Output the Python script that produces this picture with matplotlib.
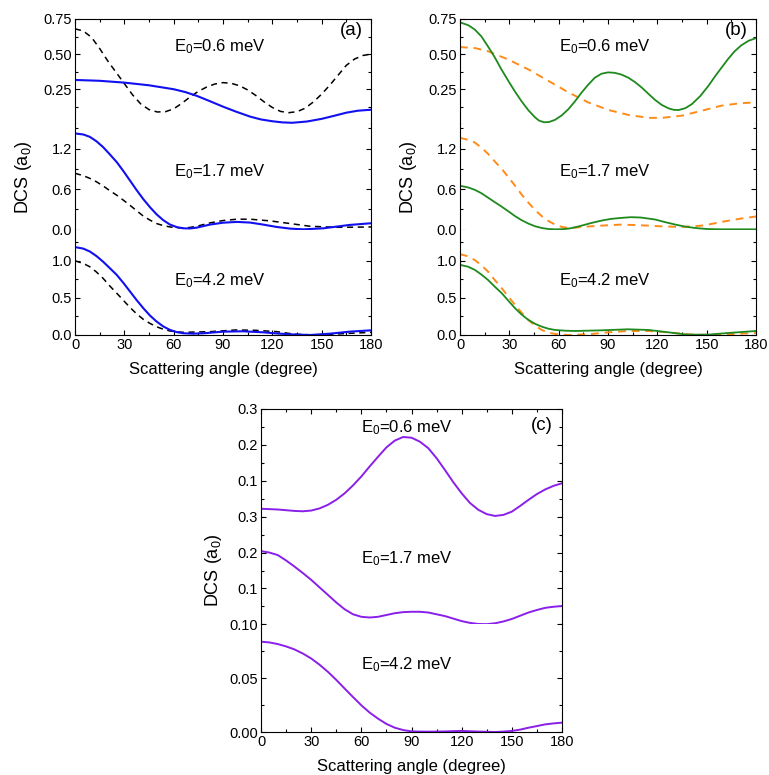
import numpy as np
import matplotlib
matplotlib.use("Agg")
import matplotlib.pyplot as plt
from matplotlib.ticker import FormatStrFormatter, AutoMinorLocator, MultipleLocator

plt.rcParams['font.family'] = ['Liberation Sans', 'DejaVu Sans']
plt.rcParams['mathtext.fontset'] = 'custom'
plt.rcParams['mathtext.rm'] = 'Liberation Sans'
plt.rcParams['mathtext.it'] = 'Liberation Sans'

energies = ['0.6', '1.7', '4.2']

# ---- panel (a) ----
a_top_dash_x = [0, 5, 10, 15, 20, 25, 30, 35, 40, 45, 50, 55, 60, 65, 70, 75, 80, 85, 90, 95, 100, 105, 110, 115, 120, 125, 130, 135, 140, 145, 150, 155, 160, 165, 170, 175, 180]
a_top_dash_y = [0.68, 0.665, 0.62, 0.54, 0.45, 0.37, 0.29, 0.21, 0.145, 0.105, 0.088, 0.09, 0.11, 0.15, 0.195, 0.235, 0.265, 0.287, 0.297, 0.292, 0.275, 0.245, 0.205, 0.16, 0.12, 0.092, 0.083, 0.09, 0.115, 0.16, 0.215, 0.28, 0.35, 0.42, 0.465, 0.49, 0.50]
a_top_sol_x = [0, 15, 30, 45, 60, 67, 74, 82, 90, 98, 106.5, 113, 120, 126, 132, 141, 150, 158, 165, 172, 180]
a_top_sol_y = [0.316, 0.31, 0.297, 0.278, 0.25, 0.23, 0.203, 0.165, 0.126, 0.09, 0.055, 0.035, 0.022, 0.014, 0.011, 0.02, 0.039, 0.062, 0.083, 0.097, 0.104]

a_mid_sol_x = [0, 5, 9, 13, 17, 21, 25.4, 29.5, 33.5, 37.5, 41.6, 45.7, 49.7, 53.7, 57.8, 62, 66, 70, 74, 82, 90, 98.4, 106.5, 114, 122.7, 131, 139, 151, 159, 167, 180]
a_mid_sol_y = [1.425, 1.41, 1.375, 1.31, 1.225, 1.12, 1.0, 0.865, 0.725, 0.585, 0.45, 0.33, 0.225, 0.14, 0.075, 0.037, 0.02, 0.018, 0.03, 0.075, 0.103, 0.115, 0.105, 0.077, 0.04, 0.015, 0.005, 0.02, 0.045, 0.07, 0.095]
a_mid_dash_x = [0, 5, 9, 13, 17, 21, 25.4, 29.5, 33.5, 37.5, 41.6, 45.7, 49.7, 53.7, 57.8, 62, 66, 70, 74, 82, 90, 98.4, 106.5, 118.7, 131, 143, 159, 170, 180]
a_mid_dash_y = [0.835, 0.8, 0.76, 0.71, 0.65, 0.58, 0.51, 0.435, 0.36, 0.28, 0.2, 0.14, 0.09, 0.06, 0.04, 0.03, 0.025, 0.033, 0.05, 0.1, 0.135, 0.155, 0.155, 0.13, 0.09, 0.05, 0.035, 0.037, 0.04]

a_bot_sol_x = [0, 5, 9, 13, 17, 21, 25.4, 29.5, 33.5, 37.5, 41.6, 45.7, 49.7, 53.7, 57.8, 62, 66, 72, 78, 90, 102, 114.6, 123, 131, 143, 155, 167, 180]
a_bot_sol_y = [1.185, 1.165, 1.126, 1.065, 0.99, 0.905, 0.81, 0.70, 0.585, 0.47, 0.36, 0.26, 0.18, 0.115, 0.068, 0.038, 0.023, 0.018, 0.023, 0.045, 0.05, 0.036, 0.02, 0.009, 0.0, 0.018, 0.045, 0.063]
a_bot_dash_x = [0, 5, 9, 13, 17, 21, 25.4, 29.5, 33.5, 37.5, 41.6, 45.7, 49.7, 53.7, 57.8, 62, 66, 82, 98, 110, 122.7, 130, 135, 147, 163, 180]
a_bot_dash_y = [1.0, 0.965, 0.92, 0.85, 0.766, 0.665, 0.563, 0.465, 0.37, 0.285, 0.21, 0.155, 0.11, 0.078, 0.054, 0.042, 0.036, 0.045, 0.068, 0.063, 0.045, 0.022, 0.009, 0.0, 0.018, 0.036]

# ---- panel (b) ----
b_top_sol_x = [0, 5, 9, 13, 17, 21, 25, 29.4, 33.5, 37.5, 41.6, 45.6, 48, 51, 54, 57.8, 62, 66, 70, 74, 78, 82, 86, 90, 94, 98, 102.4, 106.5, 110.5, 114.6, 118.7, 122.7, 126.8, 130, 133, 137, 141, 146, 151, 155, 159, 163, 167, 171, 175.5, 180]
b_top_sol_y = [0.726, 0.706, 0.675, 0.626, 0.555, 0.48, 0.395, 0.309, 0.232, 0.163, 0.1, 0.05, 0.027, 0.015, 0.016, 0.032, 0.065, 0.109, 0.165, 0.227, 0.283, 0.332, 0.36, 0.37, 0.367, 0.355, 0.332, 0.3, 0.262, 0.217, 0.173, 0.138, 0.114, 0.103, 0.102, 0.115, 0.144, 0.2, 0.273, 0.34, 0.403, 0.465, 0.52, 0.562, 0.595, 0.614]
b_top_dash_x = [0, 9.1, 17.2, 29.4, 41.6, 53.8, 66, 78, 90.3, 102.4, 114.6, 122.7, 135, 147, 159, 171, 180]
b_top_dash_y = [0.55, 0.543, 0.52, 0.461, 0.391, 0.309, 0.227, 0.156, 0.102, 0.067, 0.046, 0.046, 0.062, 0.097, 0.133, 0.151, 0.156]

b_mid_sol_x = [0, 5, 9, 13, 17, 21, 25.4, 29.5, 33.5, 37.5, 41.6, 45.7, 49.7, 53.7, 57.8, 62, 65.9, 70, 74, 80, 86.2, 92, 98.4, 104, 110, 118.7, 125, 131, 137, 143, 150, 159, 180]
b_mid_sol_y = [0.65, 0.625, 0.59, 0.54, 0.475, 0.41, 0.34, 0.27, 0.2, 0.14, 0.09, 0.05, 0.025, 0.01, 0.005, 0.007, 0.015, 0.035, 0.06, 0.1, 0.135, 0.16, 0.175, 0.185, 0.18, 0.15, 0.11, 0.075, 0.045, 0.025, 0.01, 0.005, 0.005]
b_mid_dash_x = [0, 5, 9, 13, 17, 21, 25.4, 29.5, 33.5, 37.5, 41.6, 45.7, 49.7, 53.7, 57.8, 62, 65.9, 70, 74, 86, 98, 110, 122, 135, 147, 153, 159, 165, 171, 180]
b_mid_dash_y = [1.36, 1.33, 1.29, 1.215, 1.125, 1.015, 0.9, 0.775, 0.65, 0.52, 0.4, 0.29, 0.2, 0.13, 0.075, 0.04, 0.025, 0.03, 0.04, 0.06, 0.075, 0.065, 0.05, 0.04, 0.06, 0.085, 0.115, 0.14, 0.165, 0.195]

b_bot_sol_x = [0, 5, 9, 13, 17, 21, 25.4, 29.5, 33.5, 37.5, 41.6, 45.7, 49.7, 53.7, 57.8, 64, 70, 86, 102, 114.6, 126.8, 133, 139, 151, 163, 180]
b_bot_sol_y = [0.946, 0.92, 0.878, 0.815, 0.743, 0.655, 0.563, 0.46, 0.36, 0.275, 0.203, 0.15, 0.113, 0.085, 0.068, 0.058, 0.054, 0.063, 0.077, 0.068, 0.036, 0.018, 0.005, 0.005, 0.027, 0.054]
b_bot_dash_x = [0, 5, 9, 13, 17, 21, 25.4, 29.5, 33.5, 37.5, 41.6, 45.7, 49.7, 53.7, 57.8, 62, 66, 78, 90, 102, 114.6, 126.8, 139, 151, 163, 180]
b_bot_dash_y = [1.09, 1.06, 1.01, 0.94, 0.856, 0.745, 0.63, 0.515, 0.405, 0.3, 0.203, 0.125, 0.068, 0.033, 0.014, 0.004, 0.0, 0.009, 0.036, 0.054, 0.054, 0.036, 0.009, 0.0, 0.009, 0.027]

# ---- panel (c) ----
c_x = [0, 5, 10, 15, 20, 25, 30, 35, 40, 45, 50, 55, 60, 65, 70, 75, 80, 85, 90, 95, 100, 105, 110, 115, 120, 125, 130, 135, 140, 145, 150, 155, 160, 165, 170, 175, 180]
c_top_y = [0.022, 0.021, 0.02, 0.018, 0.016, 0.015, 0.017, 0.023, 0.033, 0.047, 0.065, 0.087, 0.112, 0.14, 0.167, 0.193, 0.212, 0.222, 0.22, 0.209, 0.191, 0.163, 0.13, 0.096, 0.065, 0.038, 0.019, 0.007, 0.002, 0.005, 0.014, 0.03, 0.047, 0.063, 0.076, 0.086, 0.093]
c_mid_y = [0.204, 0.2, 0.193, 0.178, 0.161, 0.143, 0.124, 0.103, 0.082, 0.061, 0.042, 0.028, 0.021, 0.019, 0.021, 0.026, 0.031, 0.034, 0.035, 0.035, 0.033, 0.028, 0.023, 0.016, 0.009, 0.004, 0.001, 0.0005, 0.003, 0.008, 0.015, 0.024, 0.033, 0.04, 0.046, 0.049, 0.051]
c_bot_y = [0.0839, 0.0832, 0.0817, 0.0795, 0.0767, 0.0729, 0.0683, 0.0625, 0.0559, 0.0484, 0.0404, 0.0325, 0.0248, 0.018, 0.0124, 0.0075, 0.004, 0.0018, 0.0006, 0.0004, 0.0003, 0.0004, 0.0005, 0.0008, 0.001, 0.0007, 0.0004, 0.0002, 0.0, 0.0004, 0.001, 0.0022, 0.004, 0.0055, 0.0071, 0.008, 0.0087]

blue = '#1010F0'
green = '#1E8A1E'
orange = '#FF8C1A'
purple = '#8A1FEA'

fig = plt.figure(figsize=(7.69, 7.75), dpi=100)
W, H = 769.0, 775.0


def make_stack(left, top, bottom, width, ylims, yticks, yfmts, texts, tpos, tag, tagpos, ypad):
    h = (bottom - top) / 3.0
    axes = []
    for i in range(3):
        y0 = top + h * (i + 1)
        ax = fig.add_axes([left / W, 1 - y0 / H, width / W, h / H])
        ax.set_xlim(0, 180)
        ax.set_ylim(*ylims[i])
        ax.set_yticks(yticks[i])
        ax.yaxis.set_major_formatter(FormatStrFormatter(yfmts[i]))
        ax.yaxis.set_minor_locator(AutoMinorLocator(2))
        ax.xaxis.set_major_locator(MultipleLocator(30))
        ax.xaxis.set_minor_locator(MultipleLocator(15))
        ax.tick_params(which='both', direction='in', left=True, right=True,
                       top=(i == 0), bottom=(i == 2), labelbottom=(i == 2),
                       labelsize=10.5, width=0.8, pad=2)
        ax.tick_params(which='major', length=3.5)
        ax.tick_params(which='minor', length=2)
        if i != 0:
            ax.spines['top'].set_visible(False)
        if i != 2:
            ax.spines['bottom'].set_visible(False)
        ax.text(1.0 / 3, tpos[i], 'E$_0$=' + texts[i] + ' meV', transform=ax.transAxes,
                fontsize=12, va='center', ha='left')
        axes.append(ax)
    axes[0].text(tagpos[0], tagpos[1], tag, transform=axes[0].transAxes,
                 fontsize=13.5, ha='center', va='center')
    axes[1].set_ylabel('DCS (a$_0$)', fontsize=13, labelpad=ypad)
    axes[2].set_xlabel('Scattering angle (degree)', fontsize=12, labelpad=7.5)
    return axes


ab_lims = [(0, 0.75), (0, 1.56), (0, 1.42)]
ab_ticks = [[0.25, 0.5, 0.75], [0.0, 0.6, 1.2], [0.0, 0.5, 1.0]]
ab_fmts = ['%.2f', '%.1f', '%.1f']

axa = make_stack(75, 19, 335, 296, ab_lims, ab_ticks, ab_fmts, energies,
                 [0.74, 0.55, 0.52], '(a)', (0.935, 0.89), 13)
axa[0].plot(a_top_dash_x, a_top_dash_y, color='k', ls=(0, (4, 3)), lw=1.1)
axa[0].plot(a_top_sol_x, a_top_sol_y, color=blue, lw=1.5)
axa[1].plot(a_mid_dash_x, a_mid_dash_y, color='k', ls=(0, (4, 3)), lw=1.1)
axa[1].plot(a_mid_sol_x, a_mid_sol_y, color=blue, lw=1.5)
axa[2].plot(a_bot_dash_x, a_bot_dash_y, color='k', ls=(0, (4, 3)), lw=1.1)
axa[2].plot(a_bot_sol_x, a_bot_sol_y, color=blue, lw=1.5)

axb = make_stack(460, 19, 335, 296, ab_lims, ab_ticks, ab_fmts, energies,
                 [0.74, 0.55, 0.52], '(b)', (0.935, 0.89), 13)
axb[0].plot(b_top_dash_x, b_top_dash_y, color=orange, ls=(0, (4, 3)), lw=1.4)
axb[0].plot(b_top_sol_x, b_top_sol_y, color=green, lw=1.3)
axb[1].plot(b_mid_dash_x, b_mid_dash_y, color=orange, ls=(0, (4, 3)), lw=1.4)
axb[1].plot(b_mid_sol_x, b_mid_sol_y, color=green, lw=1.3)
axb[2].plot(b_bot_dash_x, b_bot_dash_y, color=orange, ls=(0, (4, 3)), lw=1.4)
axb[2].plot(b_bot_sol_x, b_bot_sol_y, color=green, lw=1.3)

c_lims = [(0, 0.3), (0, 0.3), (0, 0.1)]
c_ticks = [[0.1, 0.2, 0.3], [0.1, 0.2, 0.3], [0.0, 0.05, 0.10]]
c_fmts = ['%.1f', '%.1f', '%.2f']
axc = make_stack(261, 409, 732, 301, c_lims, c_ticks, c_fmts, energies,
                 [0.83, 0.61, 0.63], '(c)', (0.933, 0.85), 10)
axc[0].plot(c_x, c_top_y, color=purple, lw=1.4)
axc[1].plot(c_x, c_mid_y, color=purple, lw=1.4)
axc[2].plot(c_x, c_bot_y, color=purple, lw=1.4)

fig.savefig('out.png', dpi=100)
